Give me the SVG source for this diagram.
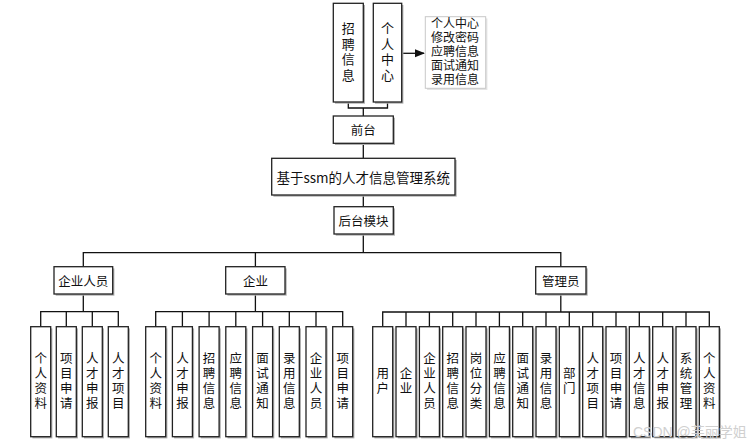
<svg xmlns="http://www.w3.org/2000/svg" width="756" height="444" viewBox="0 0 756 444">
<defs>
<style>
.box{fill:#fff;stroke:#222;stroke-width:1.3}
.sh{fill:#b0b0b0}
.ln{fill:none;stroke:#111;stroke-width:1.3}
.t{font-family:"Noto Sans CJK SC","Liberation Sans",sans-serif;font-size:12.5px;fill:#111;text-anchor:middle;dominant-baseline:central}
.v{font-family:"Noto Sans CJK SC","Liberation Sans",sans-serif;font-size:12.5px;fill:#111;text-anchor:middle;writing-mode:vertical-rl;letter-spacing:2.5px}
.vt{font-family:"Noto Sans CJK SC","Liberation Sans",sans-serif;font-size:13px;fill:#111;text-anchor:middle;writing-mode:vertical-rl;letter-spacing:2.5px}
.tl{font-family:"Noto Sans CJK SC","Liberation Sans",sans-serif;font-size:12px;fill:#111}
.wm{font-family:"Liberation Sans","Noto Sans CJK SC",sans-serif;font-size:14px;fill:#d0d0d0}
</style>
<marker id="arr" markerWidth="10" markerHeight="10" refX="9" refY="5" orient="auto" markerUnits="userSpaceOnUse">
<path d="M0,1 L10,5 L0,9 Z" fill="#111"/>
</marker>
</defs>
<rect width="756" height="444" fill="#fff"/>
<g id="connectors">
<path class="ln" d="M348.3,102 V108 H387.5 V102 M363.3,108 V116"/>
<path class="ln" d="M401.7,53.3 H424" marker-end="url(#arr)"/>
<path class="ln" d="M363.3,143.3 V158.3 M363.3,195 V206.7 M363.3,234 V252.7"/>
<path class="ln" d="M83.3,266.7 V252.7 H560.8 V266.7 M255.4,252.7 V266.7"/>
<path class="ln" d="M83.3,294 V311.7 M40.7,326.7 V311.7 H118.3 V326.7 M66.3,311.7 V326.7 M92.3,311.7 V326.7"/>
<path class="ln" d="M255.4,294 V311.7 M155.7,326.7 V311.7 H342.7 V326.7 M182.4,311.7 V326.7 M209.1,311.7 V326.7 M235.8,311.7 V326.7 M262.6,311.7 V326.7 M289.3,311.7 V326.7 M316,311.7 V326.7"/>
<path class="ln" d="M560.8,294 V312 M382.7,326.7 V312 H709.3 V326.7 M406,312 V326.7 M429.4,312 V326.7 M452.7,312 V326.7 M476,312 V326.7 M499.4,312 V326.7 M522.7,312 V326.7 M546,312 V326.7 M569.3,312 V326.7 M592.7,312 V326.7 M616,312 V326.7 M639.3,312 V326.7 M662.7,312 V326.7 M686,312 V326.7"/>
</g>
<g id="n-zhaopin"><rect class="sh" x="335" y="5" width="30" height="98.7"/><rect class="box" x="333.3" y="3.3" width="30" height="98.7"/>
<text class="vt" x="348.3" y="53">招聘信息</text></g>
<g id="n-geren"><rect class="sh" x="375" y="5" width="28.4" height="98.7"/><rect class="box" x="373.3" y="3.3" width="28.4" height="98.7"/>
<text class="vt" x="387.5" y="53">个人中心</text></g>
<g id="n-info"><rect x="427" y="18.4" width="60.4" height="71.6" fill="#e4e4e4"/><rect x="425.3" y="16.7" width="60.4" height="71.6" fill="#fff" stroke="#c8c8c8" stroke-width="1"/>
<text class="tl"><tspan x="431" y="28.3">个人中心</tspan><tspan x="431" y="42.3">修改密码</tspan><tspan x="431" y="56.3">应聘信息</tspan><tspan x="431" y="70.3">面试通知</tspan><tspan x="431" y="84.3">录用信息</tspan></text></g>
<g id="n-qiantai"><rect class="sh" x="335" y="117.7" width="60" height="27.3"/><rect class="box" x="333.3" y="116" width="60" height="27.3"/><text class="t" x="363.3" y="129.7">前台</text></g>
<g id="n-main"><rect class="sh" x="273.4" y="160" width="183.3" height="36.7"/><rect class="box" x="271.7" y="158.3" width="183.3" height="36.7"/><text class="t" x="363.3" y="176.7" style="font-size:13.5px">基于ssm的人才信息管理系统</text></g>
<g id="n-houtai"><rect class="sh" x="335.7" y="208.4" width="59.3" height="27.3"/><rect class="box" x="334" y="206.7" width="59.3" height="27.3"/><text class="t" x="363.6" y="220.3">后台模块</text></g>
<g id="n-qyry"><rect class="sh" x="55.7" y="268.4" width="58.7" height="27.3"/><rect class="box" x="54" y="266.7" width="58.7" height="27.3"/><text class="t" x="83.3" y="280.3">企业人员</text></g>
<g id="n-qiye"><rect class="sh" x="227.4" y="268.4" width="59.3" height="27.3"/><rect class="box" x="225.7" y="266.7" width="59.3" height="27.3"/><text class="t" x="255.4" y="280.3">企业</text></g>
<g id="n-admin"><rect class="sh" x="537.4" y="268.4" width="50.3" height="27.3"/><rect class="box" x="535.7" y="266.7" width="50.3" height="27.3"/><text class="t" x="560.8" y="280.3">管理员</text></g>
<g id="leaves">
<g id="l1-1"><rect class="sh" x="32.4" y="328.4" width="20" height="110"/><rect class="box" x="30.7" y="326.7" width="20" height="110"/><text class="v" x="40.7" y="382">个人资料</text></g>
<g id="l1-2"><rect class="sh" x="58" y="328.4" width="20" height="110"/><rect class="box" x="56.3" y="326.7" width="20" height="110"/><text class="v" x="66.3" y="382">项目申请</text></g>
<g id="l1-3"><rect class="sh" x="84" y="328.4" width="20" height="110"/><rect class="box" x="82.3" y="326.7" width="20" height="110"/><text class="v" x="92.3" y="382">人才申报</text></g>
<g id="l1-4"><rect class="sh" x="110" y="328.4" width="20" height="110"/><rect class="box" x="108.3" y="326.7" width="20" height="110"/><text class="v" x="118.3" y="382">人才项目</text></g>

<g id="l2-1"><rect class="sh" x="147.4" y="328.4" width="20" height="110"/><rect class="box" x="145.7" y="326.7" width="20" height="110"/><text class="v" x="155.7" y="382">个人资料</text></g>
<g id="l2-2"><rect class="sh" x="174.1" y="328.4" width="20" height="110"/><rect class="box" x="172.4" y="326.7" width="20" height="110"/><text class="v" x="182.4" y="382">人才申报</text></g>
<g id="l2-3"><rect class="sh" x="200.8" y="328.4" width="20" height="110"/><rect class="box" x="199.1" y="326.7" width="20" height="110"/><text class="v" x="209.1" y="382">招聘信息</text></g>
<g id="l2-4"><rect class="sh" x="227.5" y="328.4" width="20" height="110"/><rect class="box" x="225.8" y="326.7" width="20" height="110"/><text class="v" x="235.8" y="382">应聘信息</text></g>
<g id="l2-5"><rect class="sh" x="254.3" y="328.4" width="20" height="110"/><rect class="box" x="252.6" y="326.7" width="20" height="110"/><text class="v" x="262.6" y="382">面试通知</text></g>
<g id="l2-6"><rect class="sh" x="281" y="328.4" width="20" height="110"/><rect class="box" x="279.3" y="326.7" width="20" height="110"/><text class="v" x="289.3" y="382">录用信息</text></g>
<g id="l2-7"><rect class="sh" x="307.7" y="328.4" width="20" height="110"/><rect class="box" x="306" y="326.7" width="20" height="110"/><text class="v" x="316" y="382">企业人员</text></g>
<g id="l2-8"><rect class="sh" x="334.4" y="328.4" width="20" height="110"/><rect class="box" x="332.7" y="326.7" width="20" height="110"/><text class="v" x="342.7" y="382">项目申请</text></g>

<g id="l3-1"><rect class="sh" x="374.4" y="328.4" width="20" height="110"/><rect class="box" x="372.7" y="326.7" width="20" height="110"/><text class="v" x="382.7" y="382">用户</text></g>
<g id="l3-2"><rect class="sh" x="397.7" y="328.4" width="20" height="110"/><rect class="box" x="396" y="326.7" width="20" height="110"/><text class="v" x="406" y="382">企业</text></g>
<g id="l3-3"><rect class="sh" x="421.1" y="328.4" width="20" height="110"/><rect class="box" x="419.4" y="326.7" width="20" height="110"/><text class="v" x="429.4" y="382">企业人员</text></g>
<g id="l3-4"><rect class="sh" x="444.4" y="328.4" width="20" height="110"/><rect class="box" x="442.7" y="326.7" width="20" height="110"/><text class="v" x="452.7" y="382">招聘信息</text></g>
<g id="l3-5"><rect class="sh" x="467.7" y="328.4" width="20" height="110"/><rect class="box" x="466" y="326.7" width="20" height="110"/><text class="v" x="476" y="382">岗位分类</text></g>
<g id="l3-6"><rect class="sh" x="491.1" y="328.4" width="20" height="110"/><rect class="box" x="489.4" y="326.7" width="20" height="110"/><text class="v" x="499.4" y="382">应聘信息</text></g>
<g id="l3-7"><rect class="sh" x="514.4" y="328.4" width="20" height="110"/><rect class="box" x="512.7" y="326.7" width="20" height="110"/><text class="v" x="522.7" y="382">面试通知</text></g>
<g id="l3-8"><rect class="sh" x="537.7" y="328.4" width="20" height="110"/><rect class="box" x="536" y="326.7" width="20" height="110"/><text class="v" x="546" y="382">录用信息</text></g>
<g id="l3-9"><rect class="sh" x="561" y="328.4" width="20" height="110"/><rect class="box" x="559.3" y="326.7" width="20" height="110"/><text class="v" x="569.3" y="382">部门</text></g>
<g id="l3-10"><rect class="sh" x="584.4" y="328.4" width="20" height="110"/><rect class="box" x="582.7" y="326.7" width="20" height="110"/><text class="v" x="592.7" y="382">人才项目</text></g>
<g id="l3-11"><rect class="sh" x="607.7" y="328.4" width="20" height="110"/><rect class="box" x="606" y="326.7" width="20" height="110"/><text class="v" x="616" y="382">项目申请</text></g>
<g id="l3-12"><rect class="sh" x="631" y="328.4" width="20" height="110"/><rect class="box" x="629.3" y="326.7" width="20" height="110"/><text class="v" x="639.3" y="382">人才信息</text></g>
<g id="l3-13"><rect class="sh" x="654.4" y="328.4" width="20" height="110"/><rect class="box" x="652.7" y="326.7" width="20" height="110"/><text class="v" x="662.7" y="382">人才申报</text></g>
<g id="l3-14"><rect class="sh" x="677.7" y="328.4" width="20" height="110"/><rect class="box" x="676" y="326.7" width="20" height="110"/><text class="v" x="686" y="382">系统管理</text></g>
<g id="l3-15"><rect class="sh" x="701" y="328.4" width="20" height="110"/><rect class="box" x="699.3" y="326.7" width="20" height="110"/><text class="v" x="709.3" y="382">个人资料</text></g>
</g>
<text class="wm" x="633" y="437">CSDN @芙丽学姐</text>
</svg>
